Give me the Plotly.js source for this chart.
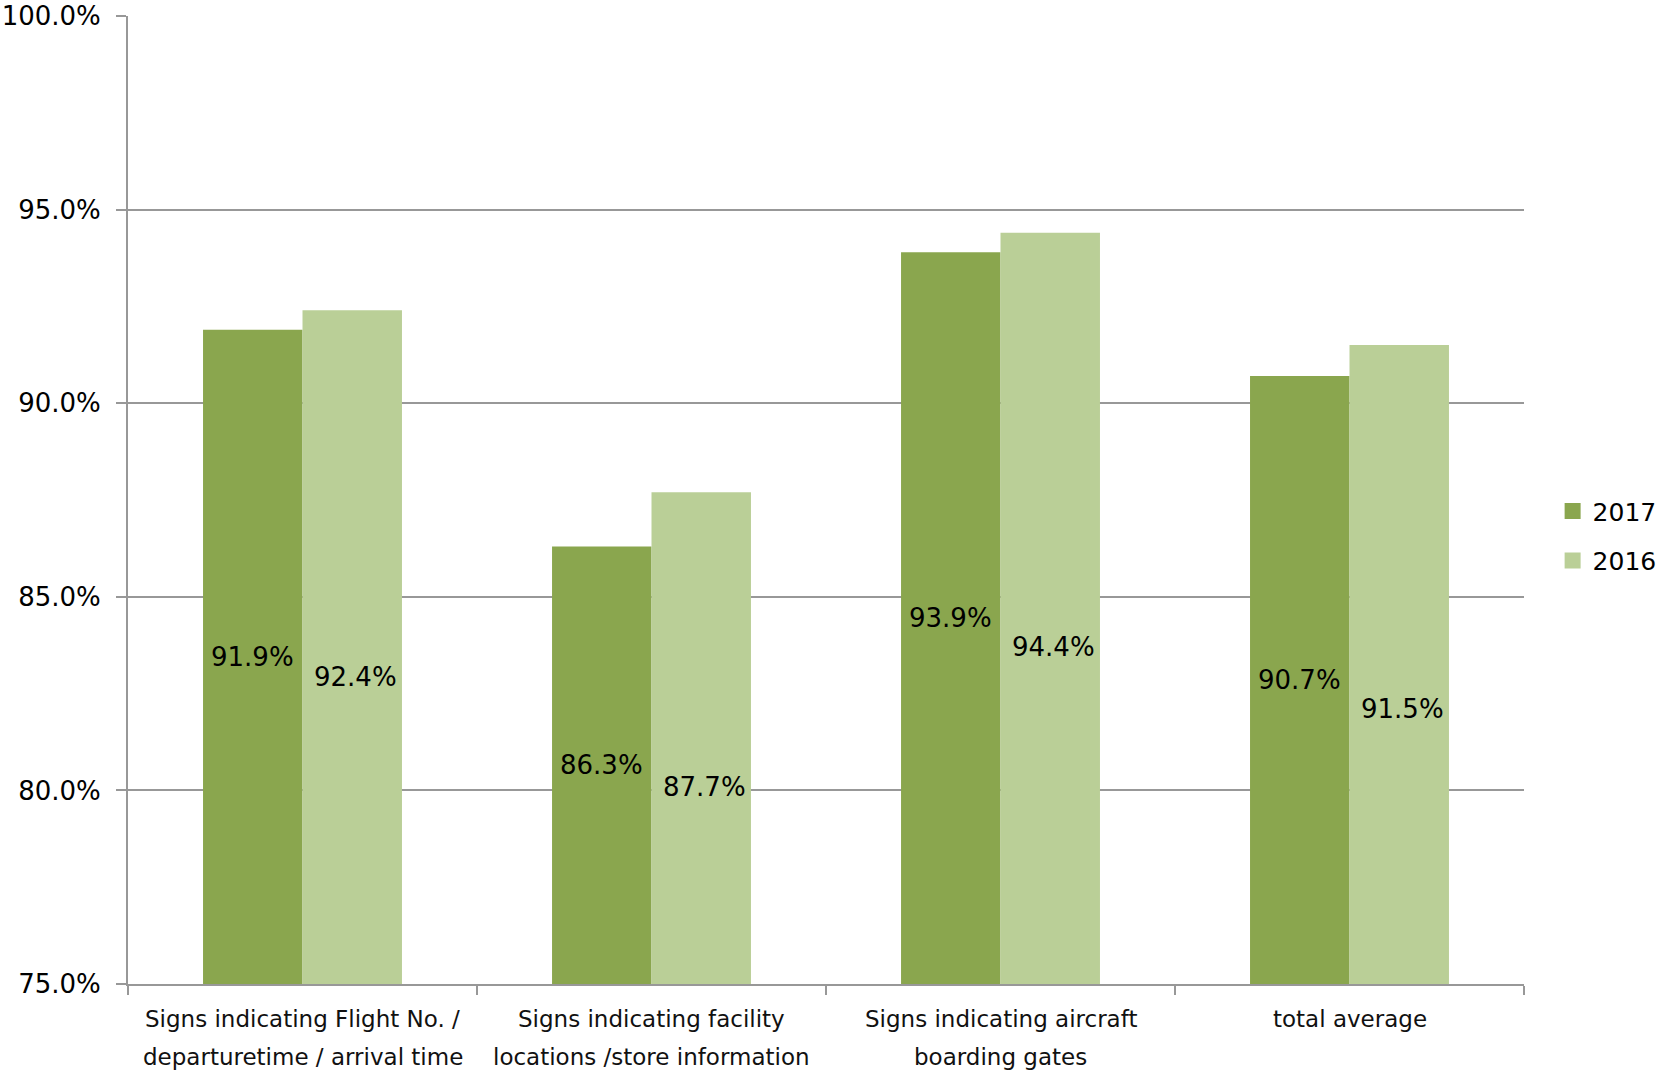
<!DOCTYPE html>
<html>
<head>
<meta charset="utf-8">
<script src="https://cdn.plot.ly/plotly-3.0.1.min.js"></script>
<style>html,body{margin:0;padding:0;background:#fff;}#chart{width:1657px;height:1071px;}</style>
</head>
<body>
<div id="chart"></div>
<script>
// ---- data ----
const categories = ['Signs indicating Flight No. / departuretime / arrival time',
  'Signs indicating facility locations /store information',
  'Signs indicating aircraft boarding gates',
  'total average'];
const labelLine1 = ['Signs indicating Flight No. /', 'Signs indicating facility', 'Signs indicating aircraft', 'total average'];
const labelLine2 = ['departuretime / arrival time', 'locations /store information', 'boarding gates', ''];
const seriesNames = ['2017', '2016'];
const values2017 = [91.9, 86.3, 93.9, 90.7];
const values2016 = [92.4, 87.7, 94.4, 91.5];
const yTickVals = [75, 80, 85, 90, 95, 100];

// ---- style / layout config ----
const colors = ['#8aa64e', '#bacf97'];
const font = 'DejaVu Sans, Verdana, sans-serif';
const W = 1657, H = 1071;
const margin = {l: 128, r: 133, t: 16, b: 87, pad: 0, autoexpand: false};
const bargap = 0.43;
const yMin = 75, yMax = 100;
const label2016Shift = [-30, -49, -39, -44]; // manual label offsets (px) as in reference
const gridColor = '#989898';

const plotW = W - margin.l - margin.r;
const catW = plotW / categories.length;
const barW = catW * (1 - bargap) / 2;

const traces = [
  {type: 'bar', name: seriesNames[0], x: categories, y: values2017, marker: {color: colors[0]}, showlegend: false, hoverinfo: 'y'},
  {type: 'bar', name: seriesNames[1], x: categories, y: values2016, marker: {color: colors[1]}, showlegend: false, hoverinfo: 'y'},
  {type: 'scatter', mode: 'markers', name: seriesNames[0], x: [categories[0]], y: [null], marker: {symbol: 'square', size: 16, color: colors[0]}, legendgroup: 'a'},
  {type: 'scatter', mode: 'markers', name: seriesNames[1], x: [categories[0]], y: [null], marker: {symbol: 'square', size: 16, color: colors[1]}, legendgroup: 'b'}
];

const annotations = [];
categories.forEach((c, i) => {
  annotations.push({x: c, xref: 'x', y: 0, yref: 'paper', yanchor: 'middle', yshift: -35, text: labelLine1[i], showarrow: false, font: {family: font, size: 23, color: '#111'}});
  if (labelLine2[i]) annotations.push({x: c, xref: 'x', y: 0, yref: 'paper', yanchor: 'middle', yshift: -73, text: labelLine2[i], showarrow: false, font: {family: font, size: 23, color: '#111'}});
  annotations.push({x: c, xref: 'x', y: (yMin + values2017[i]) / 2, yref: 'y', xshift: -barW / 2, yanchor: 'middle', text: values2017[i].toFixed(1) + '%', showarrow: false, font: {family: font, size: 26, color: '#000'}});
  annotations.push({x: c, xref: 'x', y: (yMin + values2016[i]) / 2, yref: 'y', xshift: barW / 2 + 3, yshift: label2016Shift[i], yanchor: 'middle', text: values2016[i].toFixed(1) + '%', showarrow: false, font: {family: font, size: 26, color: '#000'}});
});

const layout = {
  width: W, height: H, margin: margin,
  paper_bgcolor: '#fff', plot_bgcolor: '#fff',
  barmode: 'group', bargap: bargap, bargroupgap: 0,
  font: {family: font, color: '#000'},
  xaxis: {type: 'category', showticklabels: false, showgrid: false, showline: true, linecolor: gridColor, linewidth: 2,
    ticks: 'outside', tickson: 'boundaries', ticklen: 9, tickcolor: gridColor, tickwidth: 2, zeroline: false, fixedrange: true},
  yaxis: {range: [yMin, yMax], tickvals: yTickVals, ticktext: yTickVals.map(v => v.toFixed(1) + '%'),
    showgrid: true, gridcolor: gridColor, gridwidth: 2, showline: true, linecolor: gridColor, linewidth: 2,
    ticks: 'outside', ticklen: 10, tickcolor: gridColor, tickwidth: 2, zeroline: false,
    tickfont: {family: font, size: 26, color: '#000'}, ticklabelstandoff: 10, fixedrange: true},
  legend: {x: 1.0205, xanchor: 'left', y: 0.463, yanchor: 'middle', traceorder: 'grouped', tracegroupgap: 14,
    font: {family: font, size: 25, color: '#000'}, bgcolor: 'rgba(0,0,0,0)', borderwidth: 0},
  annotations: annotations,
  showlegend: true
};

Plotly.newPlot('chart', traces, layout, {displayModeBar: false, staticPlot: true});
</script>
</body>
</html>
